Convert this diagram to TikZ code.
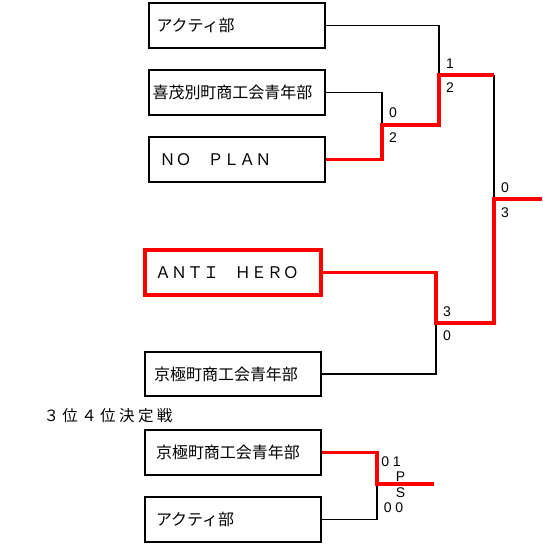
\documentclass[tikz,border=0pt]{standalone}
\usepackage{fontspec}
\setmainfont{Liberation Sans}
\newfontfamily\jp{Noto Sans CJK JP}
\newfontfamily\jpsp{Noto Sans CJK JP}[LetterSpace=22]
\begin{document}
\begin{tikzpicture}[x=1pt,y=-1pt,
  bx/.style={draw, line width=2pt, minimum width=176pt, minimum height=45pt, align=left,
    font=\jp\fontsize{16pt}{18pt}\selectfont},
  win/.style={bx, draw=red, line width=4pt},
  bk/.style={line width=1.5pt},
  rd/.style={red, line width=3.5pt},
  sc/.style={font=\fontsize{14pt}{15pt}\selectfont, inner sep=0pt}]
\useasboundingbox (0,0) rectangle (542,550);
% boxes
\node[bx, inner xsep=8pt, text width=160pt] (b1) at (236.5,25.5) {アクティ部};
\node[bx, inner xsep=4pt, text width=168pt] (b2) at (236.5,92.5) {喜茂別町商工会青年部};
\node[bx, inner xsep=11pt, text width=154pt] (b3) at (236.5,159.5) {ＮＯ　ＰＬＡＮ};
\node[win, inner xsep=10pt, text width=156pt] (b4) at (233,272.5) {ＡＮＴＩ　ＨＥＲＯ};
\node[bx, inner xsep=9pt, text width=158pt, minimum height=44pt] (b5) at (233,374) {京極町商工会青年部};
\node[font=\jpsp\fontsize{15.5pt}{17pt}\selectfont, inner sep=0pt] (t) at (108,416) {３位４位決定戦};
\node[bx, inner xsep=11pt, text width=154pt] (b6) at (233,452.5) {京極町商工会青年部};
\node[bx, inner xsep=11pt, text width=154pt] (b7) at (233,519.5) {アクティ部};
% junctions
\coordinate (j1) at (439,75);
\coordinate (j2) at (382,125);
\coordinate (s1) at (494,75);
\coordinate (j4) at (494,199);
\coordinate (fin) at (542,199);
\coordinate (j3) at (436,323);
\coordinate (j5) at (377,484);
\coordinate (fin2) at (434,484);
% black connectors
\draw[bk] (b1.east) -| (j1);
\draw[bk] (b2.east) -| (j2);
\draw[bk] (s1) -- (j4);
\draw[bk] (b5.east) -| (j3);
\draw[bk] (b7.east) -| (j5);
% red connectors
\draw[rd] (b3.east) -| (j2) -| (j1) -- (s1);
\draw[rd] (b4.east) -| (j3) -| (j4) -- (fin);
\draw[rd] (b6.east) -| (j5) -- (fin2);
% scores
\node[sc] (s11) at (450,64) {1};
\node[sc] (s12) at (450,88) {2};
\node[sc] (s21) at (393,113) {0};
\node[sc] (s22) at (393,138) {2};
\node[sc] (s31) at (447,312) {3};
\node[sc] (s32) at (447,336) {0};
\node[sc] (s41) at (505,188) {0};
\node[sc] (s42) at (505,213) {3};
\node[sc] (p1) at (391,461.5) {0 1};
\node[sc] (p2) at (400.5,477) {P};
\node[sc] (p3) at (400.5,493) {S};
\node[sc] (p4) at (393.5,508) {0 0};
\end{tikzpicture}
\end{document}
